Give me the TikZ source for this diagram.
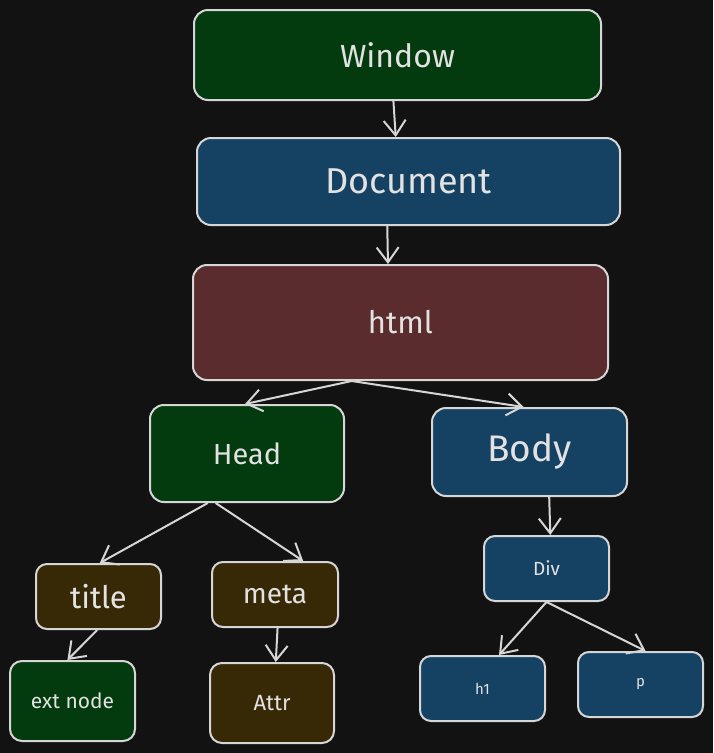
\documentclass[tikz,border=0pt]{standalone}
\usepackage{fontspec}
\setmainfont{Fira Sans}
\usetikzlibrary{arrows.meta,calc}
\definecolor{bgc}{HTML}{121212}
\definecolor{strk}{HTML}{D6D6D6}
\definecolor{txt}{HTML}{E2E2E2}
\definecolor{gbox}{HTML}{033A0E}
\definecolor{bbox}{HTML}{154262}
\definecolor{rbox}{HTML}{5B2C2D}
\definecolor{ybox}{HTML}{372806}
\tikzset{
  box/.style={draw=strk, line width=2pt, rounded corners=14pt, text=txt, inner sep=0pt},
  conn/.style={draw=strk, line width=2pt, -{Straight Barb[length=15pt,width=22pt,line width=2pt]}},
}
\begin{document}
\begin{tikzpicture}[x=1pt,y=-1pt]
\fill[bgc] (0,0) rectangle (713,753);
\useasboundingbox (0,0) rectangle (713,753);
\node[box, fill=gbox, minimum width=407pt, minimum height=90pt, font=\fontsize{32}{34}\selectfont] (win) at (397.5,55) {Window};
\node[box, fill=bbox, minimum width=423pt, minimum height=87pt, font=\fontsize{36}{38}\selectfont] (doc) at (408.5,181.5) {Document};
\node[box, fill=rbox, minimum width=415pt, minimum height=115pt, font=\fontsize{31}{33}\selectfont] (html) at (400.5,322.5) {html};
\node[box, fill=gbox, minimum width=194pt, minimum height=97pt, font=\fontsize{29}{31}\selectfont] (head) at (247,453.5) {Head};
\node[box, fill=bbox, minimum width=195pt, minimum height=88pt, font=\fontsize{37}{39}\selectfont] (body) at (529.5,452) {Body};
\node[box, fill=ybox, minimum width=125pt, minimum height=65pt, rounded corners=11pt, font=\fontsize{31}{33}\selectfont] (title) at (98.5,596.5) {title};
\node[box, fill=ybox, minimum width=126pt, minimum height=65pt, rounded corners=11pt, font=\fontsize{28}{30}\selectfont] (meta) at (275,594.5) {meta};
\node[box, fill=gbox, minimum width=125pt, minimum height=80pt, rounded corners=12pt, font=\fontsize{21}{23}\selectfont] (ext) at (72.5,701) {ext node};
\node[box, fill=ybox, minimum width=124pt, minimum height=80pt, rounded corners=12pt, font=\fontsize{22}{24}\selectfont] (attr) at (272,703) {Attr};
\node[box, fill=bbox, minimum width=125pt, minimum height=65pt, rounded corners=11pt, font=\fontsize{19}{21}\selectfont] (div) at (546.5,568.5) {Div};
\node[box, fill=bbox, minimum width=125pt, minimum height=65pt, rounded corners=11pt, font=\fontsize{15}{17}\selectfont] (h1) at (482.5,688.5) {h1};
\node[box, fill=bbox, minimum width=125pt, minimum height=65pt, rounded corners=11pt, font=\fontsize{15}{17}\selectfont] (p) at (640.5,684.5) {p};
\draw[conn] ($(win.south west)!0.49!(win.south east)$) -- ($(doc.north west)!0.47!(doc.north east)$);
\draw[conn] ($(doc.south west)!0.45!(doc.south east)$) -- ($(html.north west)!0.47!(html.north east)$);
\draw[conn] ($(html.south west)!0.383!(html.south east)$) -- ($(head.north west)!0.49!(head.north east)$);
\draw[conn] ($(html.south west)!0.383!(html.south east)$) -- ($(body.north west)!0.47!(body.north east)$);
\draw[conn] ($(head.south west)!0.30!(head.south east)$) -- ($(title.north west)!0.51!(title.north east)$);
\draw[conn] ($(head.south west)!0.34!(head.south east)$) -- ($(meta.north west)!0.72!(meta.north east)$);
\draw[conn] ($(title.south west)!0.49!(title.south east)$) -- ($(ext.north west)!0.46!(ext.north east)$);
\draw[conn] ($(meta.south west)!0.52!(meta.south east)$) -- ($(attr.north west)!0.53!(attr.north east)$);
\draw[conn] ($(body.south west)!0.60!(body.south east)$) -- ($(div.north west)!0.53!(div.north east)$);
\draw[conn] ($(div.south west)!0.50!(div.south east)$) -- ($(h1.north west)!0.63!(h1.north east)$);
\draw[conn] ($(div.south west)!0.50!(div.south east)$) -- ($(p.north west)!0.54!(p.north east)$);
\end{tikzpicture}
\end{document}
